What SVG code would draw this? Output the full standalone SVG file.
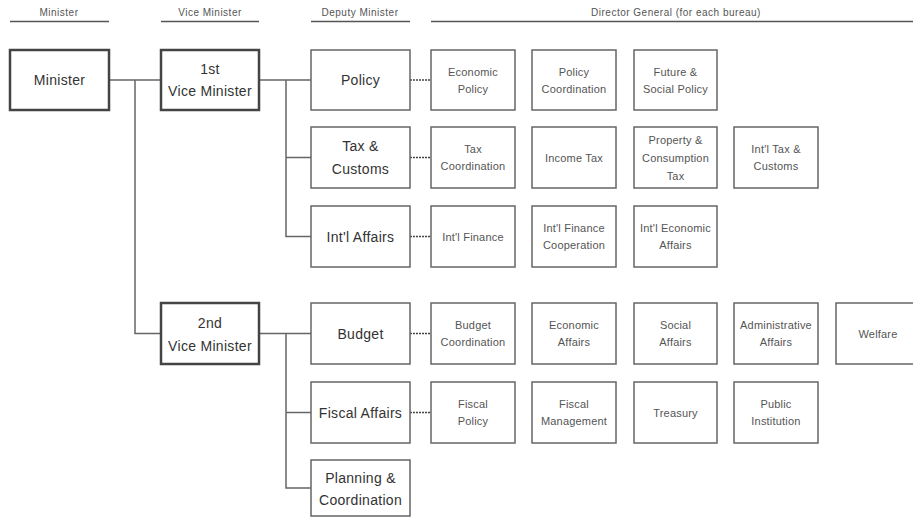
<svg xmlns="http://www.w3.org/2000/svg" width="913" height="517" viewBox="0 0 913 517">
<style>
.hd{font-family:"Liberation Sans",Arial,sans-serif;font-size:10px;fill:#555;letter-spacing:0.5px;text-anchor:middle}
.hl{stroke:#555;stroke-width:1.3}
.bx{fill:#fff;stroke:#666;stroke-width:1.5}
.bxk{fill:#fff;stroke:#444;stroke-width:2.5}
.t1{font-family:"Liberation Sans",Arial,sans-serif;font-size:14px;fill:#333;letter-spacing:0.3px;text-anchor:middle}
.t2{font-family:"Liberation Sans",Arial,sans-serif;font-size:11px;fill:#555;letter-spacing:0.2px;text-anchor:middle}
.ln{stroke:#666;stroke-width:1.5;fill:none}
.dt{stroke:#444;stroke-width:1.5;stroke-dasharray:2 1;fill:none}
</style>
<g id="headers">
<text class="hd" x="59" y="16">Minister</text>
<line class="hl" x1="10" y1="21.5" x2="109" y2="21.5"/>
<text class="hd" x="210" y="16">Vice Minister</text>
<line class="hl" x1="161" y1="21.5" x2="259" y2="21.5"/>
<text class="hd" x="360" y="16">Deputy Minister</text>
<line class="hl" x1="311" y1="21.5" x2="410" y2="21.5"/>
<text class="hd" x="676" y="16">Director General (for each bureau)</text>
<line class="hl" x1="431" y1="21.5" x2="913" y2="21.5"/>
</g>
<g id="connectors">
<path class="ln" d="M109 80H161M135 80V333.5H161"/>
<path class="ln" d="M259 80H311M286 80V236.5H311M286 157.5H311"/>
<path class="ln" d="M259 333.5H311M286 333.5V488H311M286 412.5H311"/>
<path class="dt" d="M410 80H431M410 157.5H431M410 236.5H431M410 333.5H431M410 412.5H431"/>
</g>
<g id="minister"><rect class="bxk" x="10" y="50" width="99" height="60"/><text class="t1" x="59.5" y="85">Minister</text></g>
<g id="vm1"><rect class="bxk" x="161" y="50" width="98" height="60"/><text class="t1" x="210" y="74">1st</text><text class="t1" x="210" y="96">Vice Minister</text></g>
<g id="vm2"><rect class="bxk" x="161" y="303" width="98" height="61"/><text class="t1" x="210" y="328">2nd</text><text class="t1" x="210" y="351">Vice Minister</text></g>
<g id="dm-policy"><rect class="bx" x="311" y="50" width="99" height="60"/><text class="t1" x="360.5" y="85">Policy</text></g>
<g id="dm-tax"><rect class="bx" x="311" y="127" width="99" height="61"/><text class="t1" x="360.5" y="151">Tax &amp;</text><text class="t1" x="360.5" y="174">Customs</text></g>
<g id="dm-intl"><rect class="bx" x="311" y="206" width="99" height="61"/><text class="t1" x="360.5" y="241.5">Int'l Affairs</text></g>
<g id="dm-budget"><rect class="bx" x="311" y="303" width="99" height="61"/><text class="t1" x="360.5" y="338.5">Budget</text></g>
<g id="dm-fiscal"><rect class="bx" x="311" y="382" width="99" height="61"/><text class="t1" x="360.5" y="417.5">Fiscal Affairs</text></g>
<g id="dm-planning"><rect class="bx" x="311" y="460" width="99" height="56"/><text class="t1" x="360.5" y="483">Planning &amp;</text><text class="t1" x="360.5" y="505">Coordination</text></g>
<g id="dg-econ-policy"><rect class="bx" x="431" y="50" width="84" height="60"/><text class="t2" x="473" y="75.5">Economic</text><text class="t2" x="473" y="92.5">Policy</text></g>
<g id="dg-policy-coord"><rect class="bx" x="532" y="50" width="84" height="60"/><text class="t2" x="574" y="75.5">Policy</text><text class="t2" x="574" y="92.5">Coordination</text></g>
<g id="dg-future"><rect class="bx" x="634" y="50" width="83" height="60"/><text class="t2" x="675.5" y="75.5">Future &amp;</text><text class="t2" x="675.5" y="92.5">Social Policy</text></g>
<g id="dg-tax-coord"><rect class="bx" x="431" y="127" width="84" height="61"/><text class="t2" x="473" y="153">Tax</text><text class="t2" x="473" y="170">Coordination</text></g>
<g id="dg-income"><rect class="bx" x="532" y="127" width="84" height="61"/><text class="t2" x="574" y="161.5">Income Tax</text></g>
<g id="dg-property"><rect class="bx" x="634" y="127" width="83" height="61"/><text class="t2" x="675.5" y="144">Property &amp;</text><text class="t2" x="675.5" y="162">Consumption</text><text class="t2" x="675.5" y="180">Tax</text></g>
<g id="dg-intl-tax"><rect class="bx" x="734" y="127" width="84" height="61"/><text class="t2" x="776" y="153">Int'l Tax &amp;</text><text class="t2" x="776" y="170">Customs</text></g>
<g id="dg-intl-fin"><rect class="bx" x="431" y="206" width="84" height="61"/><text class="t2" x="473" y="240.5">Int'l Finance</text></g>
<g id="dg-intl-coop"><rect class="bx" x="532" y="206" width="84" height="61"/><text class="t2" x="574" y="232">Int'l Finance</text><text class="t2" x="574" y="249">Cooperation</text></g>
<g id="dg-intl-econ"><rect class="bx" x="634" y="206" width="83" height="61"/><text class="t2" x="675.5" y="232">Int'l Economic</text><text class="t2" x="675.5" y="249">Affairs</text></g>
<g id="dg-budget-coord"><rect class="bx" x="431" y="303" width="84" height="61"/><text class="t2" x="473" y="329">Budget</text><text class="t2" x="473" y="346">Coordination</text></g>
<g id="dg-econ-affairs"><rect class="bx" x="532" y="303" width="84" height="61"/><text class="t2" x="574" y="329">Economic</text><text class="t2" x="574" y="346">Affairs</text></g>
<g id="dg-social"><rect class="bx" x="634" y="303" width="83" height="61"/><text class="t2" x="675.5" y="329">Social</text><text class="t2" x="675.5" y="346">Affairs</text></g>
<g id="dg-admin"><rect class="bx" x="734" y="303" width="84" height="61"/><text class="t2" x="776" y="329">Administrative</text><text class="t2" x="776" y="346">Affairs</text></g>
<g id="dg-welfare"><rect class="bx" x="836" y="303" width="84" height="61"/><text class="t2" x="878" y="337.5">Welfare</text></g>
<g id="dg-fiscal-policy"><rect class="bx" x="431" y="382" width="84" height="61"/><text class="t2" x="473" y="408">Fiscal</text><text class="t2" x="473" y="425">Policy</text></g>
<g id="dg-fiscal-mgmt"><rect class="bx" x="532" y="382" width="84" height="61"/><text class="t2" x="574" y="408">Fiscal</text><text class="t2" x="574" y="425">Management</text></g>
<g id="dg-treasury"><rect class="bx" x="634" y="382" width="83" height="61"/><text class="t2" x="675.5" y="416.5">Treasury</text></g>
<g id="dg-public"><rect class="bx" x="734" y="382" width="84" height="61"/><text class="t2" x="776" y="408">Public</text><text class="t2" x="776" y="425">Institution</text></g>
</svg>
